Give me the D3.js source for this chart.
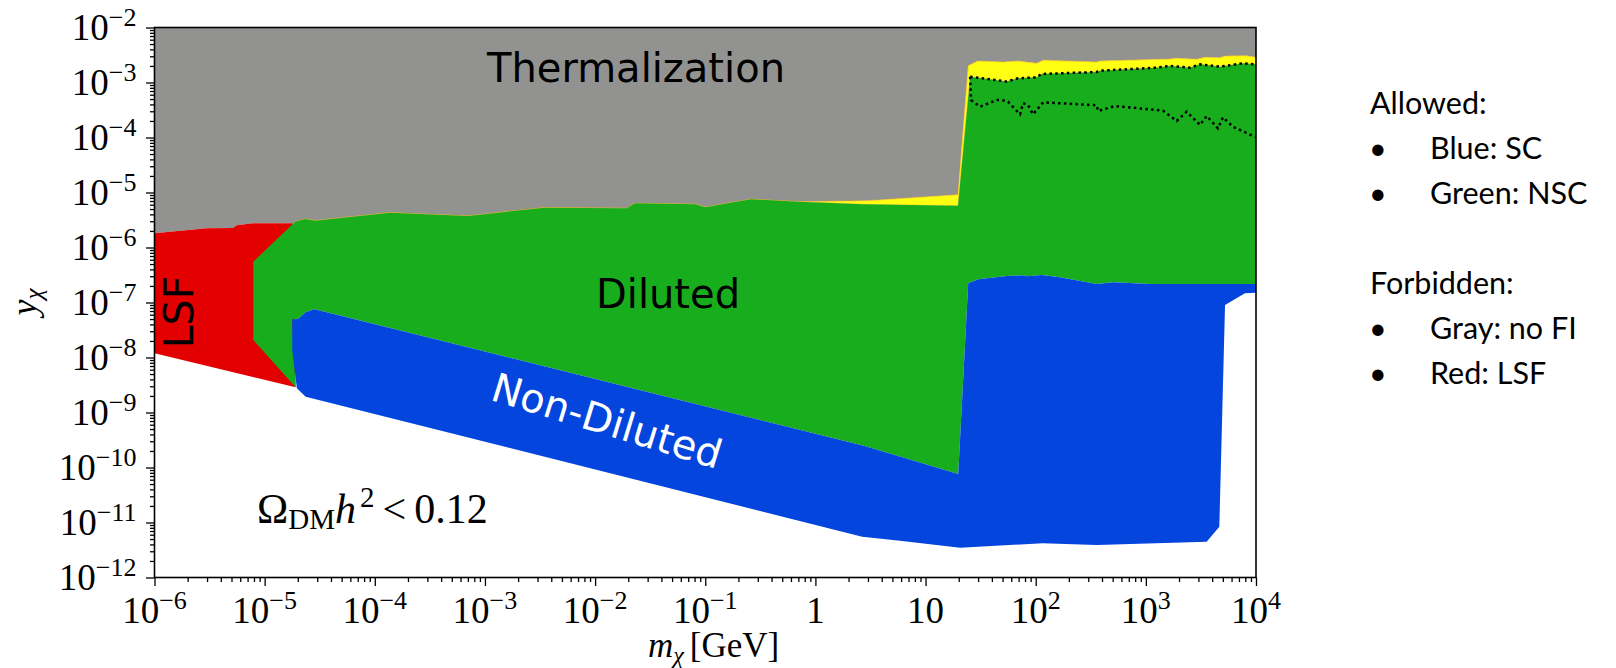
<!DOCTYPE html>
<html>
<head>
<meta charset="utf-8">
<script src="https://cdn.jsdelivr.net/npm/d3@7"></script>
<style>
body { margin: 0; background: #fff; }
text { font-family: "DejaVu Sans", sans-serif; }
text.serif { font-family: "Liberation Serif", "Times New Roman", serif; }
.legend text { font-family: Lato, "Open Sans", sans-serif; font-size: 30.5px; }
</style>
</head>
<body>
<svg></svg>
<script>
// axis decades
var xExps = [-6, -5, -4, -3, -2, -1, 0, 1, 2, 3, 4];
var yExps = [-12, -11, -10, -9, -8, -7, -6, -5, -4, -3, -2];

// lower edge of the thermalization (gray) region, [m, y]
var thermEdge = [
  [1e-6, 1.81e-6], [2.98e-6, 2.23e-6], [5.16e-6, 2.26e-6], [5.57e-6, 2.53e-6],
  [7.83e-6, 2.75e-6], [1.81e-5, 2.75e-6], [1.95e-5, 2.94e-6], [2.32e-5, 3.30e-6],
  [2.86e-5, 3.07e-6], [1.37e-4, 4.30e-6], [2.57e-4, 4.07e-6], [7.02e-4, 3.74e-6],
  [3.44e-3, 5.30e-6], [1.93e-2, 5.16e-6], [2.30e-2, 6.37e-6], [8.15e-2, 6.10e-6],
  [9.95e-2, 5.38e-6], [0.258, 7.52e-6], [0.706, 6.81e-6], [2.99, 7.10e-6],
  [19.7, 9.12e-6], [24.4, 2.02e-3], [29.9, 2.46e-3], [50.8, 2.36e-3],
  [69.5, 2.46e-3], [102, 2.23e-3], [117, 2.54e-3], [358, 2.36e-3],
  [384, 2.46e-3], [1656, 2.67e-3], [1905, 2.75e-3], [2897, 2.64e-3],
  [3446, 2.87e-3], [4713, 2.82e-3], [5234, 3.03e-3], [8240, 3.07e-3], [1e4, 2.87e-3]
];

// lower edge of LSF (red)
var lsfEdge = [[1e-6, 1.19e-8], [1.91e-5, 2.87e-9]];

// Diluted (green) upper edge, left to right
var dilutedTop = [
  [7.88e-6, 5.52e-7], [1.89e-5, 2.94e-6], [2.32e-5, 3.30e-6], [2.86e-5, 3.07e-6],
  [1.37e-4, 4.30e-6], [2.57e-4, 4.07e-6], [7.02e-4, 3.74e-6], [3.44e-3, 5.30e-6],
  [1.93e-2, 5.16e-6], [2.30e-2, 6.37e-6], [8.15e-2, 6.10e-6], [9.95e-2, 5.38e-6],
  [0.258, 7.52e-6], [0.706, 6.81e-6], [2.76, 6.10e-6], [19.7, 5.75e-6],
  [25.4, 1.27e-3], [54.6, 1.04e-3], [69.0, 1.19e-3], [102, 1.24e-3],
  [113, 1.43e-3], [358, 1.55e-3], [384, 1.64e-3], [1256, 1.86e-3],
  [1656, 2.0e-3], [2518, 1.86e-3], [3104, 2.14e-3], [4713, 1.94e-3],
  [7620, 2.23e-3], [1e4, 2.14e-3]
];

// Diluted (green) lower edge, right to left
var dilutedBottom = [
  [1e4, 2.17e-7], [1089, 2.17e-7], [506, 2.33e-7], [358, 2.17e-7], [166, 2.87e-7],
  [113, 3.16e-7], [82.8, 2.99e-7], [77.3, 3.12e-7], [54.6, 3.03e-7], [30.1, 2.64e-7],
  [24.4, 2.23e-7], [19.8, 7.62e-11], [2.75, 2.49e-10], [2.84e-5, 7.52e-8],
  [2.37e-5, 6.71e-8], [2.0e-5, 5.01e-8], [1.78e-5, 4.95e-8], [1.91e-5, 2.87e-9],
  [7.88e-6, 2.08e-8]
];

// Non-Diluted (blue) outline
var nonDiluted = [
  [1.78e-5, 4.95e-8], [2.0e-5, 5.01e-8], [2.37e-5, 6.71e-8], [2.84e-5, 7.52e-8],
  [2.75, 2.49e-10], [19.8, 7.62e-11], [24.4, 2.23e-7], [30.1, 2.64e-7],
  [54.6, 3.03e-7], [77.3, 3.12e-7], [82.8, 2.99e-7], [113, 3.16e-7],
  [166, 2.87e-7], [358, 2.17e-7], [506, 2.33e-7], [1089, 2.17e-7],
  [1e4, 2.17e-7], [1e4, 1.51e-7], [7943, 1.47e-7], [5234, 9.01e-8],
  [4645, 8.39e-12], [3565, 4.48e-12], [358, 3.90e-12], [116, 4.19e-12],
  [20.6, 3.48e-12], [5.86, 4.67e-12], [2.66, 5.52e-12], [2.36e-5, 1.94e-9],
  [1.96e-5, 2.75e-9], [1.78e-5, 1.37e-8]
];

// lower dotted curve
var dottedLow = [
  [25.4, 1.27e-3], [25.9, 4.81e-4], [31.3, 3.63e-4], [44.3, 4.81e-4], [49.1, 4.81e-4],
  [56.0, 4.48e-4], [72.1, 2.64e-4], [76.8, 4.19e-4], [85.2, 3.90e-4], [94.5, 2.64e-4],
  [117, 4.36e-4], [358, 3.85e-4], [368, 3.03e-4], [525, 3.74e-4], [1432, 3.07e-4],
  [1905, 2.0e-4], [2350, 2.95e-4], [3104, 1.69e-4], [3565, 2.46e-4], [4519, 1.47e-4],
  [5012, 2.33e-4], [6180, 1.57e-4], [1e4, 1.01e-4]
];

var legendRows = [
  {bullet: false, text: "Allowed:"},
  {bullet: true, text: "Blue: SC"},
  {bullet: true, text: "Green: NSC"},
  {bullet: false, text: ""},
  {bullet: false, text: "Forbidden:"},
  {bullet: true, text: "Gray: no FI"},
  {bullet: true, text: "Red: LSF"}
];

var W = 1616, H = 668;
var margin = {top: 27.5, right: 360, bottom: 90.5, left: 154.5};
var width = W - margin.left - margin.right;
var height = H - margin.top - margin.bottom;

var svg = d3.select("svg").attr("width", W).attr("height", H);

var g = svg.append("g")
    .attr("transform", "translate(" + margin.left + "," + margin.top + ")");

var x = d3.scaleLog().domain([1e-6, 1e4]).range([0, width]);
var y = d3.scaleLog().domain([1e-12, 1e-2]).range([height, 0]);

var line = d3.line().x(function(d) { return x(d[0]); }).y(function(d) { return y(d[1]); });
function area(pts) { return line(pts) + "Z"; }

g.append("clipPath").attr("id", "clip")
  .append("rect").attr("width", width).attr("height", height);

var regions = g.append("g").attr("clip-path", "url(#clip)");

// gray: no thermalization
regions.append("path")
    .attr("d", area([[1e-6, 1e-2], [1e4, 1e-2]].concat(thermEdge.slice().reverse())))
    .attr("fill", "#929390");

// red: LSF
regions.append("path")
    .attr("d", area(thermEdge.filter(function(d) { return d[0] < 1.9e-5; }).concat(lsfEdge.slice().reverse())))
    .attr("fill", "#e20000");

// yellow band between gray and green
regions.append("path")
    .attr("d", area(thermEdge.filter(function(d) { return d[0] >= 1.9e-5; })
                     .concat(dilutedTop.slice(1).reverse())))
    .attr("fill", "#ffff12")
    .attr("stroke", "#f0b020").attr("stroke-width", 0.6);

// green: diluted
regions.append("path")
    .attr("d", area(dilutedTop.concat(dilutedBottom)))
    .attr("fill", "#17ad1c");

// blue: non-diluted
regions.append("path")
    .attr("d", area(nonDiluted))
    .attr("fill", "#0445dd");

// dotted curves
regions.append("path")
    .attr("d", line(dilutedTop.filter(function(d) { return d[0] >= 25; })))
    .attr("fill", "none").attr("stroke", "#000")
    .attr("stroke-width", 2.5).attr("stroke-dasharray", "2.5,3.3");
regions.append("path")
    .attr("d", line(dottedLow))
    .attr("fill", "none").attr("stroke", "#000")
    .attr("stroke-width", 2.5).attr("stroke-dasharray", "2.5,3.3");

// region labels
g.append("text").attr("x", 636 - margin.left).attr("y", 81.5 - margin.top)
    .attr("text-anchor", "middle").attr("font-size", 40).text("Thermalization");
g.append("text").attr("x", 668 - margin.left).attr("y", 308 - margin.top)
    .attr("text-anchor", "middle").attr("font-size", 40).text("Diluted");
g.append("text")
    .attr("transform", "translate(" + (193 - margin.left) + "," + (312 - margin.top) + ") rotate(-90)")
    .attr("text-anchor", "middle").attr("font-size", 41).text("LSF");
g.append("text")
    .attr("transform", "translate(" + (607 - margin.left) + "," + (421 - margin.top) + ") rotate(17)")
    .attr("text-anchor", "middle").attr("dominant-baseline", "central")
    .attr("font-size", 40).attr("fill", "#fff").text("Non-Diluted");

// Omega label
var om = g.append("text").attr("class", "serif")
    .attr("x", 257 - margin.left).attr("y", 523 - margin.top).attr("font-size", 42);
om.append("tspan").text("Ω");
om.append("tspan").attr("font-size", 29).attr("dy", 6).text("DM");
om.append("tspan").attr("font-style", "italic").attr("dy", -6).text("h");
om.append("tspan").attr("font-size", 29).attr("dy", -16).attr("dx", 4).text("2");
om.append("tspan").attr("dy", 16).attr("dx", 8).text("<");
om.append("tspan").attr("dx", 8).text("0.12");

// axes: major and minor ticks
var minors = [];
for (var e = -12; e < 4; e++) {
  for (var k = 2; k <= 9; k++) minors.push(k * Math.pow(10, e));
}
var xMinor = minors.filter(function(v) { return v > 1e-6 && v < 1e4; });
var yMinor = minors.filter(function(v) { return v > 1e-12 && v < 1e-2; });

function styleAxis(sel) {
  sel.select(".domain").remove();
  sel.selectAll("line").attr("stroke", "#000").attr("stroke-width", 1.3);
}

g.append("g").attr("transform", "translate(0," + height + ")")
    .call(d3.axisBottom(x).tickValues(xExps.map(function(e) { return Math.pow(10, e); }))
          .tickSize(8.5).tickFormat(""))
    .call(styleAxis);
g.append("g").attr("transform", "translate(0," + height + ")")
    .call(d3.axisBottom(x).tickValues(xMinor).tickSize(4.5).tickFormat(""))
    .call(styleAxis);
g.append("g")
    .call(d3.axisLeft(y).tickValues(yExps.map(function(e) { return Math.pow(10, e); }))
          .tickSize(8.5).tickFormat(""))
    .call(styleAxis);
g.append("g")
    .call(d3.axisLeft(y).tickValues(yMinor).tickSize(4.5).tickFormat(""))
    .call(styleAxis);

// tick labels as 10 with superscript exponent
function powLabel(t, e) {
  if (e === 0) { t.append("tspan").text("1"); return; }
  if (e === 1) { t.append("tspan").text("10"); return; }
  t.append("tspan").text("10");
  t.append("tspan").attr("font-size", 26).attr("dy", -14)
      .text(e < 0 ? "\u2212" + (-e) : String(e));
}

xExps.forEach(function(e) {
  var t = g.append("text").attr("class", "serif")
      .attr("x", x(Math.pow(10, e))).attr("y", height + 45)
      .attr("text-anchor", "middle").attr("font-size", 37);
  powLabel(t, e);
});
yExps.forEach(function(e) {
  var t = g.append("text").attr("class", "serif")
      .attr("x", -18).attr("y", y(Math.pow(10, e)) + 12)
      .attr("text-anchor", "end").attr("font-size", 37);
  powLabel(t, e);
});

// axis titles
var xt = g.append("text").attr("class", "serif")
    .attr("x", 648 - margin.left).attr("y", 657 - margin.top).attr("font-size", 35);
xt.append("tspan").attr("font-style", "italic").text("m");
xt.append("tspan").attr("font-style", "italic").attr("font-size", 24).attr("dy", 6).text("χ");
xt.append("tspan").attr("dy", -6).attr("dx", 6).text("[GeV]");

var yt = g.append("text").attr("class", "serif")
    .attr("transform", "translate(" + (36 - margin.left) + "," + (302 - margin.top) + ") rotate(-90)")
    .attr("text-anchor", "middle").attr("font-size", 36);
yt.append("tspan").attr("font-style", "italic").text("y");
yt.append("tspan").attr("font-style", "italic").attr("font-size", 25).attr("dy", 6).text("χ");

// frame
g.append("rect").attr("width", width).attr("height", height)
    .attr("fill", "none").attr("stroke", "#000").attr("stroke-width", 1.6);

// legend text block
var legend = svg.append("g").attr("class", "legend");
legendRows.forEach(function(r, i) {
  var yy = 114 + i * 45;
  if (r.bullet) {
    legend.append("text").attr("x", 1369).attr("y", yy).text("•");
    legend.append("text").attr("x", 1430).attr("y", yy).text(r.text);
  } else {
    legend.append("text").attr("x", 1370).attr("y", yy).text(r.text);
  }
});
</script>
</body>
</html>
